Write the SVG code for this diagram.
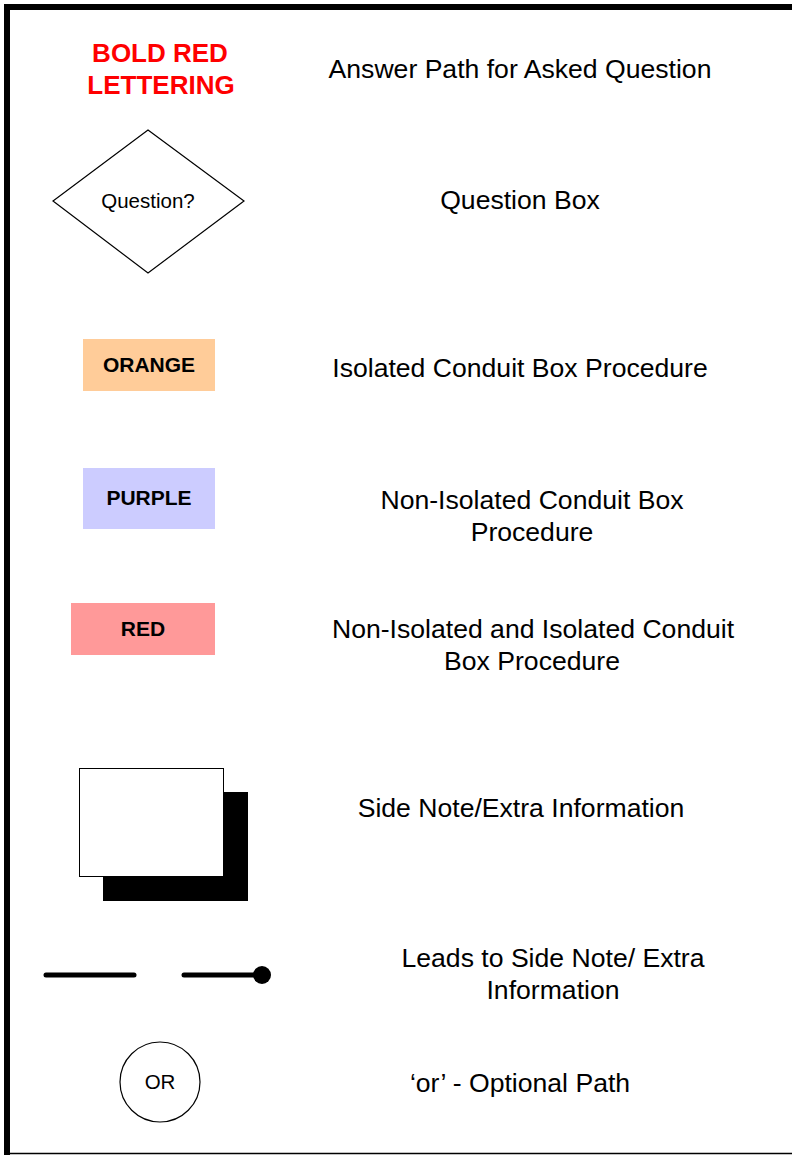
<svg xmlns="http://www.w3.org/2000/svg" width="792" height="1155" viewBox="0 0 792 1155">
<style>
.t{font-family:"Liberation Sans",Arial,sans-serif;font-size:26.6px;fill:#000;text-anchor:middle}
.b{font-family:"Liberation Sans",Arial,sans-serif;font-weight:bold;font-size:21px;fill:#000;text-anchor:middle}
.s{font-family:"Liberation Sans",Arial,sans-serif;font-size:20.5px;fill:#000;text-anchor:middle}
.r{font-family:"Liberation Sans",Arial,sans-serif;font-weight:bold;font-size:26px;fill:#FF0000;text-anchor:middle}
.o{fill:none;stroke:#000;stroke-width:1.2}
</style>
<rect x="0" y="0" width="792" height="1155" fill="#fff"/>
<g id="frame">
<rect x="7" y="7" width="800" height="1160" fill="none" stroke="#000" stroke-width="6"/>
<line x1="7" y1="1153.5" x2="792" y2="1153.5" stroke="#000" stroke-width="1.5"/>
</g>
<g id="legend-bold-red">
<text class="r" x="160" y="62">BOLD RED</text>
<text class="r" x="161" y="94">LETTERING</text>
<text class="t" x="520" y="78">Answer Path for Asked Question</text>
</g>
<g id="legend-question">
<polygon class="o" points="148,130 244,201 148,273 53,201" fill="#fff"/>
<text class="s" x="148" y="208">Question?</text>
<text class="t" x="520" y="209">Question Box</text>
</g>
<g id="legend-orange">
<rect x="83" y="339" width="132" height="52" fill="#FFCC99"/>
<text class="b" x="149" y="372">ORANGE</text>
<text class="t" x="520" y="377">Isolated Conduit Box Procedure</text>
</g>
<g id="legend-purple">
<rect x="83" y="468" width="132" height="61" fill="#CCCCFF"/>
<text class="b" x="149" y="505">PURPLE</text>
<text class="t" x="532" y="509">Non-Isolated Conduit Box</text>
<text class="t" x="532" y="541">Procedure</text>
</g>
<g id="legend-red">
<rect x="71" y="603" width="144" height="52" fill="#FF9999"/>
<text class="b" x="143" y="636">RED</text>
<text class="t" x="533" y="638">Non-Isolated and Isolated Conduit</text>
<text class="t" x="532" y="670">Box Procedure</text>
</g>
<g id="legend-side-note">
<rect x="103" y="792" width="145" height="109" fill="#000"/>
<rect x="79.5" y="768.5" width="144" height="108" fill="#fff" stroke="#000" stroke-width="1"/>
<text class="t" x="521" y="817">Side Note/Extra Information</text>
</g>
<g id="connectors">
<line x1="46" y1="975" x2="134" y2="975" stroke="#000" stroke-width="5" stroke-linecap="round"/>
<line x1="184" y1="975" x2="262" y2="975" stroke="#000" stroke-width="5" stroke-linecap="round"/>
<circle cx="262" cy="975" r="9" fill="#000"/>
</g>
<g id="legend-leads">
<text class="t" x="553" y="967">Leads to Side Note/ Extra</text>
<text class="t" x="553" y="999">Information</text>
</g>
<g id="legend-or">
<circle class="o" cx="160" cy="1082" r="40" fill="#fff"/>
<text class="s" x="160" y="1089">OR</text>
<text class="t" x="520" y="1092">‘or’ - Optional Path</text>
</g>
</svg>
